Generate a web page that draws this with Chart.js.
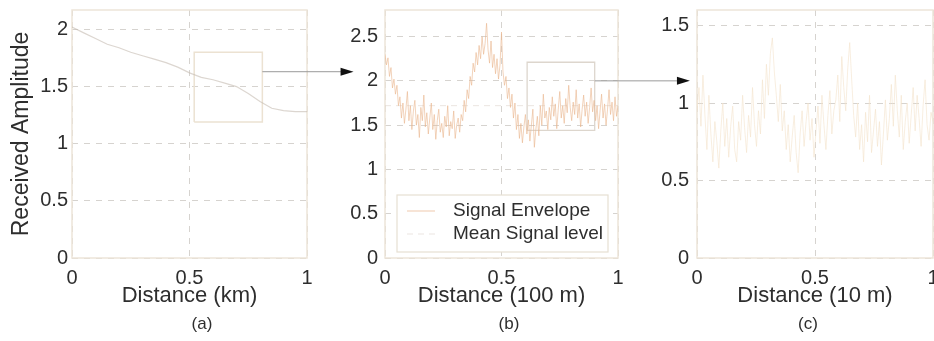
<!DOCTYPE html>
<html><head><meta charset="utf-8">
<script src="https://cdn.jsdelivr.net/npm/chart.js@4/dist/chart.umd.min.js"></script>
<style>
html,body{margin:0;padding:0;background:#fff;}
#wrap{position:relative;width:934px;height:341px;overflow:hidden;background:#fff;}
#wrap canvas{position:absolute;top:0;}
</style></head><body>
<div id="wrap">
<canvas id="ca" width="404" height="341" style="left:0px"></canvas>
<canvas id="cb" width="378" height="341" style="left:320px"></canvas>
<canvas id="cc" width="356" height="341" style="left:630px"></canvas>
<canvas id="ov" width="934" height="341" style="left:0px;pointer-events:none"></canvas>
</div>
<script>
// ---------- data ----------
const xTicks = [0, 0.5, 1];
const aTicksY = [0, 0.5, 1, 1.5, 2];
const bTicksY = [0, 0.5, 1, 1.5, 2, 2.5];
const cTicksY = [0, 0.5, 1, 1.5];

// (a) received amplitude over 1 km
const aX = [0,0.05,0.1,0.15,0.2,0.25,0.3,0.35,0.4,0.45,0.5,0.55,0.6,0.65,0.7,0.75,0.8,0.85,0.9,0.95,1.0];
const aY = [2.02,1.97,1.92,1.87,1.84,1.80,1.77,1.74,1.71,1.67,1.62,1.58,1.56,1.53,1.50,1.44,1.37,1.31,1.29,1.28,1.28];
const aBoxX = [0.52, 0.81];
const aBoxY = [1.19, 1.80];

// (b) signal envelope over 100 m
const bY = [
2.30,2.18,2.26,2.05,2.15,1.92,2.02,1.85,1.95,1.72,
1.82,1.58,1.75,1.52,1.68,1.88,1.55,1.72,1.45,1.66,
1.78,1.50,1.62,1.36,1.70,1.55,1.84,1.48,1.64,1.40,
1.58,1.75,1.45,1.62,1.34,1.55,1.68,1.42,1.52,1.36,
1.60,1.48,1.72,1.38,1.54,1.46,1.66,1.35,1.50,1.58,
1.42,1.62,1.55,1.78,1.65,1.90,1.80,2.05,1.95,2.20,
2.10,2.32,2.18,2.40,2.25,2.50,2.30,2.42,2.65,2.35,
2.20,2.45,2.15,2.30,2.08,2.25,2.02,2.18,2.55,2.10,
1.95,2.05,1.80,1.92,1.70,1.85,1.58,1.75,1.45,1.62,
1.35,1.52,1.30,1.48,1.62,1.40,1.56,1.32,1.50,1.68,
1.25,1.45,1.60,1.38,1.72,1.50,1.85,1.58,1.66,1.45,
1.70,1.56,1.82,1.60,1.74,1.46,1.68,1.88,1.58,1.72,
1.52,1.80,1.64,1.95,1.70,1.55,1.76,1.62,1.90,1.58,
1.74,1.48,1.68,1.84,1.60,1.76,1.52,1.70,1.92,1.65,
1.78,1.55,1.72,1.46,1.66,1.85,1.58,1.74,1.50,1.68,
1.90,1.62,1.76,1.55,1.82,1.60,1.72
];
const bMeanX = [0, 1];
const bMeanY = [1.72, 1.72];
const bBoxX = [0.61, 0.90];
const bBoxY = [1.44, 2.21];

// (c) signal over 10 m
const cY = [
0.95,1.10,0.85,1.18,0.92,0.70,1.05,0.80,0.62,0.88,
0.75,0.58,0.82,1.00,0.72,0.90,0.65,0.85,0.98,0.70,
0.62,0.88,0.76,1.05,0.84,0.68,0.92,0.78,1.10,0.86,
0.72,0.95,0.80,1.15,0.90,1.25,1.05,1.32,1.42,1.20,
1.05,0.88,1.12,0.82,0.95,0.70,0.86,0.62,0.78,0.92,
0.68,0.55,0.80,0.95,0.72,0.88,1.00,0.76,0.90,0.65,
0.82,0.98,0.74,1.05,0.86,0.70,0.92,1.08,0.80,0.95,
1.02,1.18,0.88,1.30,1.10,0.95,1.22,1.39,1.15,0.92,
0.78,1.00,0.70,0.86,0.62,0.94,0.75,1.05,0.68,0.82,
0.96,0.72,0.88,0.60,0.80,1.02,0.76,0.90,1.12,0.85,
1.18,0.95,0.78,1.05,0.70,0.88,1.00,0.74,0.92,1.10,
0.82,1.05,0.90,0.72,0.98,1.15,0.86,0.76,0.94,0.88
];

// ---------- style ----------
const FONT = "'Liberation Sans', Arial, Helvetica, sans-serif";
const TXT = '#2e2e2e';
const GRID = '#d6d3cf';
const FRAME = '#ede5d9';

function pts(xs, ys){ return ys.map((y,i)=>({x:xs[i], y:y})); }
function evenPts(ys){ return ys.map((y,i)=>({x:i/(ys.length-1), y:y})); }
function boxPts(bx, by){ return [{x:bx[0],y:by[0]},{x:bx[1],y:by[0]},{x:bx[1],y:by[1]},{x:bx[0],y:by[1]},{x:bx[0],y:by[0]}]; }

const framePlugin = {
  id:'frame',
  beforeDatasetsDraw(chart){
    const a = chart.chartArea, ctx = chart.ctx;
    ctx.save(); ctx.strokeStyle = FRAME; ctx.lineWidth = 1.5;
    ctx.strokeRect(a.left, a.top, a.right-a.left, a.bottom-a.top);
    ctx.restore();
  }
};

const legendPlugin = {
  id:'boxLegend',
  afterDatasetsDraw(chart, args, opts){
    if(!opts || !opts.show) return;
    const a = chart.chartArea, ctx = chart.ctx;
    const L = a.left + 12, R = a.right - 10, B = a.bottom - 6, T = B - 57;
    ctx.save();
    ctx.fillStyle = '#fff'; ctx.fillRect(L, T, R-L, B-T);
    ctx.strokeStyle = '#e6dfd3'; ctx.lineWidth = 1.2; ctx.strokeRect(L, T, R-L, B-T);
    const ds = chart.data.datasets;
    const rows = [ds[0], ds[1]];
    rows.forEach((d, i) => {
      const y = T + 16 + i*23;
      ctx.strokeStyle = d.borderColor; ctx.lineWidth = 1.2;
      ctx.setLineDash(d.borderDash || []);
      ctx.beginPath(); ctx.moveTo(L+10, y); ctx.lineTo(L+38, y); ctx.stroke();
      ctx.setLineDash([]);
      ctx.fillStyle = TXT; ctx.font = "19px " + FONT; ctx.textBaseline = 'middle'; ctx.textAlign = 'left';
      ctx.fillText(d.label, L+56, y);
    });
    ctx.restore();
  }
};

function makeChart(id, o){
  return new Chart(document.getElementById(id), {
    type:'line',
    data:{ datasets:o.datasets },
    plugins:[framePlugin, legendPlugin],
    options:{
      responsive:false, animation:false, devicePixelRatio:1,
      layout:{ padding:{ top:10, right:0, left:0, bottom:0 } },
      elements:{ point:{ radius:0 }, line:{ tension:0 } },
      plugins:{
        legend:{ display:false }, tooltip:{ enabled:false },
        boxLegend:{ show: !!o.legend },
        title:{ display:true, text:o.label, position:'bottom', color:TXT,
                font:{ family:FONT, size:17, weight:'normal' }, padding:{ top:0, bottom:6 } }
      },
      scales:{
        x:{ type:'linear', min:0, max:1,
            afterBuildTicks(s){ s.ticks = xTicks.map(v=>({value:v})); },
            afterFit(s){ s.height = 56.6; s.paddingLeft = 0; s.paddingRight = 0; },
            grid:{ color:GRID, lineWidth:1, drawTicks:false },
            border:{ display:false },
            ticks:{ color:TXT, font:{ family:FONT, size:20 }, padding:8, maxRotation:0,
                    callback:(v)=>String(v) },
            title:{ display:true, text:o.xTitle, color:TXT, font:{ family:FONT, size:22 },
                    padding:{ top:0, bottom:5 } } },
        y:{ type:'linear', min:0, max:o.yMax,
            afterBuildTicks(s){ s.ticks = o.yTicks.map(v=>({value:v})); },
            afterFit(s){ s.width = o.yWidth; s.paddingTop = 0; s.paddingBottom = 0; },
            grid:{ color:GRID, lineWidth:1, drawTicks:false },
            border:{ display:false },
            ticks:{ color:TXT, font:{ family:FONT, size:20 }, padding:o.yPad,
                    callback:(v)=>String(v) },
            title:{ display:!!o.yTitle, text:o.yTitle || '', color:TXT, font:{ family:FONT, size:23 },
                    padding:{ top:8, bottom:0 } } },
        yR:{ type:'linear', position:'right', min:0, max:o.yMax,
             afterFit(s){ s.width = o.rightPad; s.paddingTop = 0; s.paddingBottom = 0; },
             grid:{ display:false, drawTicks:false }, border:{ display:false },
             ticks:{ display:false } }
      }
    }
  });
}

const chartA = makeChart('ca', {
  rightPad:97, yWidth:72, yPad:4, yMax:2.17, yTicks:aTicksY, label:'(a)', xTitle:'Distance (km)', yTitle:'Received Amplitude',
  datasets:[
    { label:'Signal', data:pts(aX, aY), borderColor:'rgba(196,186,176,0.6)', borderWidth:1.2 },
    { label:'Zoom', data:boxPts(aBoxX, aBoxY), borderColor:'#ece2d2', borderWidth:1.5 }
  ]
});
const chartB = makeChart('cb', {
  rightPad:80, yWidth:65, yPad:7, yMax:2.8, yTicks:bTicksY, label:'(b)', xTitle:'Distance (100 m)', legend:true,
  datasets:[
    { label:'Signal Envelope', data:evenPts(bY), borderColor:'rgba(234,182,142,0.6)', borderWidth:1 },
    { label:'Mean Signal level', data:pts(bMeanX, bMeanY), borderColor:'rgba(215,205,195,0.5)', borderWidth:1, borderDash:[6,5] },
    { label:'Zoom', data:boxPts(bBoxX, bBoxY), borderColor:'#ddd6cd', borderWidth:1.3 }
  ]
});
const chartC = makeChart('cc', {
  rightPad:53, yWidth:67, yPad:8, yMax:1.6, yTicks:cTicksY, label:'(c)', xTitle:'Distance (10 m)',
  datasets:[
    { label:'Signal', data:evenPts(cY), borderColor:'rgba(244,226,204,0.6)', borderWidth:1 }
  ]
});

// dashed grid lines
[chartA, chartB, chartC].forEach(ch => {
  ch.options.scales.x.border.dash = [6,6];
  ch.options.scales.y.border.dash = [6,6];
  ch.update('none');
});

// arrows between panels
const arrows = [
  { from:chartA, fromLeft:0,   fx:aBoxX[1], fy:1.63, to:chartB, toLeft:320, tx:-0.135 },
  { from:chartB, fromLeft:320, fx:bBoxX[1], fy:2.0,  to:chartC, toLeft:630, tx:-0.03 }
];
const ov = document.getElementById('ov').getContext('2d');
arrows.forEach(a => {
  const x0 = a.fromLeft + a.from.scales.x.getPixelForValue(a.fx);
  const y0 = a.from.scales.y.getPixelForValue(a.fy);
  const x1 = a.toLeft + a.to.scales.x.getPixelForValue(a.tx);
  ov.strokeStyle = '#9a9a9a'; ov.lineWidth = 1;
  ov.beginPath(); ov.moveTo(x0, y0); ov.lineTo(x1 - 10, y0); ov.stroke();
  ov.fillStyle = '#111';
  ov.beginPath(); ov.moveTo(x1, y0); ov.lineTo(x1 - 13, y0 - 4); ov.lineTo(x1 - 13, y0 + 4); ov.closePath(); ov.fill();
});
</script>
</body></html>
